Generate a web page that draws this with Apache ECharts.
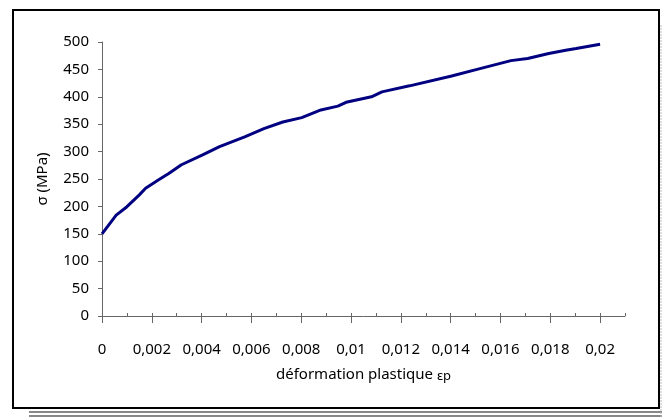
<!DOCTYPE html>
<html><head><meta charset="utf-8">
<script src="https://cdn.jsdelivr.net/npm/echarts@6/dist/echarts.min.js"></script>
<style>html,body{margin:0;padding:0;background:#fff}#c{width:662px;height:418px}</style>
</head><body><div id="c"></div>
<script>
var strain = [0, 0.00057, 0.00099, 0.0015, 0.00175, 0.00226, 0.00268, 0.00319, 0.00404, 0.00472, 0.00573, 0.0065, 0.00726, 0.00802, 0.00879, 0.00947, 0.0098, 0.01082, 0.01124, 0.01235, 0.01404, 0.01506, 0.01642, 0.01709, 0.01794, 0.01862, 0.01904, 0.02];
var stress = [150, 184, 199, 221, 233, 248, 260, 276, 294, 309, 327, 342, 354, 362, 376, 383, 390, 400, 409, 420, 438, 450, 466, 470, 479, 485, 488, 496];
var xMajorTicks = [0, 0.002, 0.004, 0.006, 0.008, 0.01, 0.012, 0.014, 0.016, 0.018, 0.02];
var xMinorTicks = [0.001, 0.003, 0.005, 0.007, 0.009, 0.011, 0.013, 0.015, 0.017, 0.019, 0.021];
var xTitle = 'déformation plastique ';
var yTitle = 'σ (MPa)';

var font = 'Noto Sans';
var axisCol = '#666666';
var chart = echarts.init(document.getElementById('c'), null, {renderer: 'canvas'});
chart.setOption({
  animation: false,
  backgroundColor: '#ffffff',
  grid: {left: 102, right: 37, top: 42, bottom: 102},
  xAxis: [{
    type: 'value', min: 0, max: 0.021,
    axisLine: {onZero: false, lineStyle: {color: axisCol, width: 1}},
    axisTick: {show: true, inside: true, length: 3, lineStyle: {color: axisCol},
      customValues: xMajorTicks.concat(xMinorTicks)},
    axisLabel: {customValues: xMajorTicks, margin: 26, fontFamily: font, fontSize: 15, color: '#000',
      formatter: function (v) { return String(+v.toFixed(3)).replace('.', ','); }},
    splitLine: {show: false},
    name: xTitle + '{e|εp}', nameLocation: 'middle', nameGap: 50,
    nameTextStyle: {fontFamily: font, fontSize: 15, color: '#000',
      rich: {e: {fontFamily: font, fontSize: 13, color: '#000', padding: [4, 0, 0, 0]}}}
  }, {
    type: 'value', min: 0, max: 0.021, position: 'bottom',
    axisLine: {show: false},
    axisTick: {show: true, inside: false, length: 7, lineStyle: {color: axisCol}, customValues: xMajorTicks},
    axisLabel: {show: false},
    splitLine: {show: false}
  }],
  yAxis: {
    type: 'value', min: 0, max: 500, interval: 50,
    axisLine: {show: true, lineStyle: {color: axisCol, width: 1}},
    axisTick: {show: true, inside: false, length: 4, lineStyle: {color: axisCol}},
    axisLabel: {margin: 13, fontFamily: font, fontSize: 15, color: '#000'},
    splitLine: {show: false},
    name: yTitle, nameLocation: 'middle', nameGap: 52,
    nameTextStyle: {fontFamily: font, fontSize: 15, color: '#000'}
  },
  series: [{
    type: 'line', xAxisIndex: 0, showSymbol: false, smooth: false,
    lineStyle: {color: '#000080', width: 3},
    data: strain.map(function (s, i) { return [s, stress[i]]; })
  }],
  graphic: [
    {type: 'rect', shape: {x: 13, y: 10, width: 646, height: 398},
      style: {fill: null, stroke: '#000', lineWidth: 2}, z: 100},
    {type: 'line', shape: {x1: 29, y1: 412, x2: 662, y2: 412}, style: {stroke: '#888', lineWidth: 2}, z: 100},
    {type: 'line', shape: {x1: 29, y1: 416, x2: 662, y2: 416}, style: {stroke: '#888', lineWidth: 2}, z: 100},
    {type: 'line', shape: {x1: 661, y1: 25, x2: 661, y2: 418}, style: {stroke: '#bbb', lineWidth: 1, lineDash: [2, 1]}, z: 100}
  ]
});
</script></body></html>
